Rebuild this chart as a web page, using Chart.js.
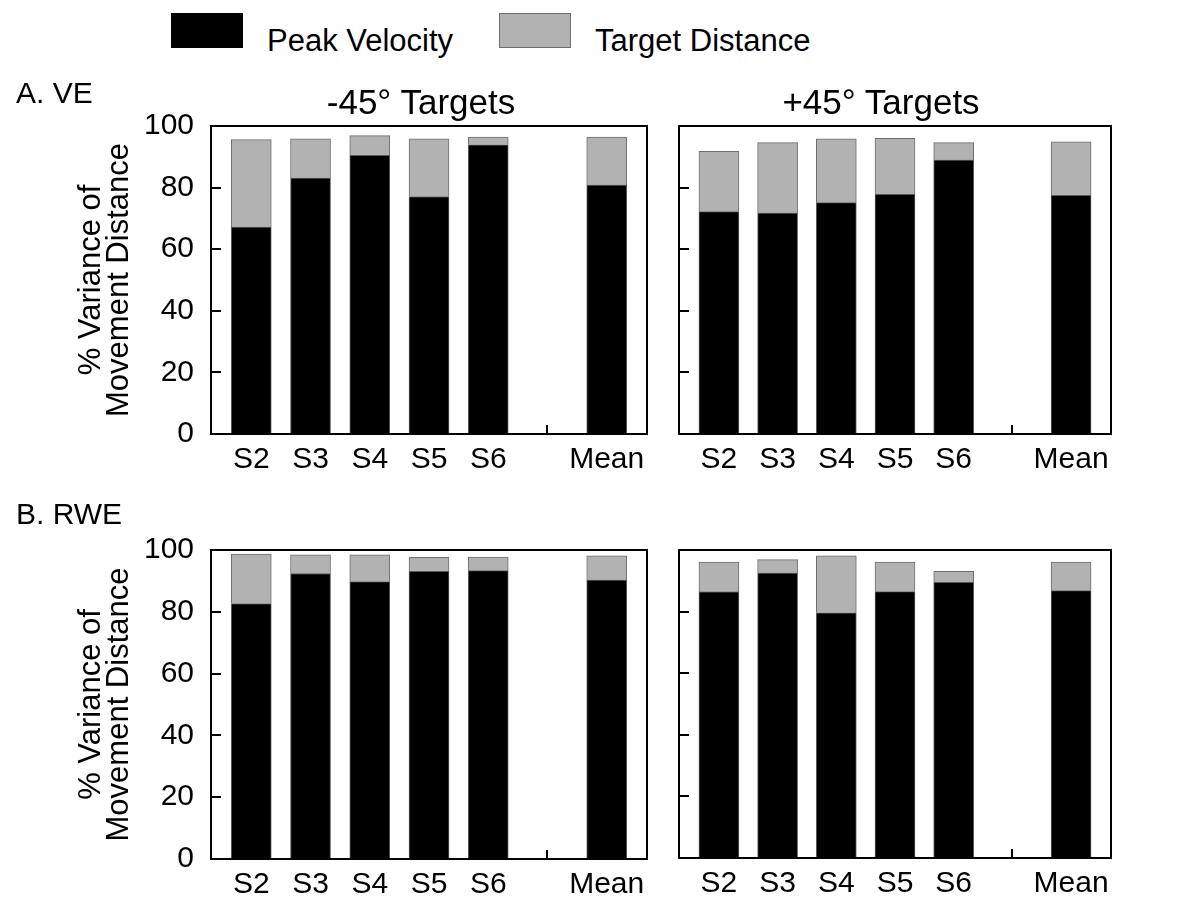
<!DOCTYPE html>
<html>
<head>
<meta charset="utf-8">
<script src="https://cdn.jsdelivr.net/npm/chart.js@4.4.1/dist/chart.umd.min.js"></script>
<style>
  body { margin: 0; background: #fff; width: 1200px; height: 923px; position: relative; overflow: hidden;
         font-family: "Liberation Sans", Arial, sans-serif; color: #000; }
  .txt { position: absolute; line-height: 1; white-space: nowrap; }
  .swatch { position: absolute; box-sizing: border-box; }
  canvas { position: absolute; display: block; }
  .frame { position: absolute; box-sizing: border-box; border: 2px solid #000; pointer-events: none; }
  .tick { position: absolute; background: #000; pointer-events: none; }
</style>
</head>
<body>
<canvas id="veNeg" width="660" height="385" style="left:0px;top:99px;width:660px;height:385px;"></canvas>
<canvas id="vePos" width="470" height="376" style="left:660px;top:108px;width:470px;height:376px;"></canvas>
<canvas id="rweNeg" width="660" height="386" style="left:0px;top:523px;width:660px;height:386px;"></canvas>
<canvas id="rwePos" width="470" height="376" style="left:660px;top:532px;width:470px;height:376px;"></canvas>

<!-- legend -->
<div class="swatch" style="left:171px;top:13px;width:72px;height:35px;background:#000;"></div>
<div class="txt" style="left:267px;top:25px;font-size:31px;">Peak Velocity</div>
<div class="swatch" style="left:499px;top:13px;width:72px;height:35px;background:#b2b2b2;border:1px solid #6e6e6e;"></div>
<div class="txt" style="left:595px;top:25px;font-size:31px;">Target Distance</div>

<!-- panel labels -->
<div class="txt" style="left:16px;top:78px;font-size:30px;">A. VE</div>
<div class="txt" style="left:16px;top:499px;font-size:30px;">B. RWE</div>
<div class="txt" style="left:316px;top:84px;width:210px;text-align:center;font-size:35px;">-45° Targets</div>
<div class="txt" style="left:776px;top:84px;width:210px;text-align:center;font-size:35px;">+45° Targets</div>

<script>
// categories ("" is the empty slot between S6 and Mean)
const groups = ["S2", "S3", "S4", "S5", "S6", "", "Mean"];
const yTicks = [0, 20, 40, 60, 80, 100];

// A. VE, -45° targets
const vePeakNeg = [67.2, 83.1, 90.5, 77.1, 93.9, null, 80.8];
const veTargetNeg = [28.4, 12.7, 6.4, 18.7, 2.5, null, 15.6];
// A. VE, +45° targets
const vePeakPos = [72.2, 71.7, 75.1, 77.8, 88.9, null, 77.5];
const veTargetPos = [19.6, 22.9, 20.7, 18.2, 5.7, null, 17.4];
// B. RWE, -45° targets
const rwePeakNeg = [82.7, 92.4, 89.8, 93.1, 93.3, null, 90.3];
const rweTargetNeg = [16.0, 6.0, 8.6, 4.5, 4.4, null, 7.8];
// B. RWE, +45° targets
const rwePeakPos = [86.4, 92.5, 79.6, 86.5, 89.5, null, 86.8];
const rweTargetPos = [9.7, 4.4, 18.5, 9.6, 3.6, null, 9.3];

Chart.defaults.font.family = '"Liberation Sans", Arial, sans-serif';
Chart.defaults.color = "#000";

// box round the plot + short inward tick marks
const framePlugin = {
    id: "frame",
    afterDraw(chart) {
        const { ctx, chartArea: a, scales } = chart;
        ctx.save();
        ctx.strokeStyle = "#000";
        ctx.lineWidth = 2;
        ctx.beginPath();
        ctx.rect(a.left, a.top, a.right - a.left, a.bottom - a.top);
        yTicks.slice(1, -1).forEach((v) => {
            const py = Math.round(scales.y.getPixelForValue(v));
            ctx.moveTo(a.left, py);
            ctx.lineTo(a.left + 10, py);
        });
        const gx = Math.round(scales.x.getPixelForValue(groups.indexOf("")));
        ctx.moveTo(gx, a.bottom);
        ctx.lineTo(gx, a.bottom - 9);
        ctx.stroke();
        ctx.restore();
    },
};

const toPoints = (arr) =>
    groups.map((g, i) => ({ x: i, y: arr[i] })).filter((p) => p.y !== null);

function makePanel(id, peak, target, leftSide) {
    return new Chart(document.getElementById(id), {
        type: "bar",
        data: {
            datasets: [
                {
                    label: "Peak Velocity",
                    data: toPoints(peak),
                    backgroundColor: "#000",
                    borderColor: "#5a5a5a",
                    borderWidth: 1,
                    barThickness: 40,
                },
                {
                    label: "Target Distance",
                    data: toPoints(target),
                    backgroundColor: "#b2b2b2",
                    borderColor: "#6e6e6e",
                    borderWidth: 1,
                    barThickness: 40,
                },
            ],
        },
        options: {
            responsive: false,
            animation: false,
            devicePixelRatio: 1,
            layout: { padding: { top: 18, right: leftSide ? 13 : 19, bottom: 0, left: 0 } },
            plugins: { legend: { display: false }, tooltip: { enabled: false } },
            scales: {
                x: {
                    type: "linear",
                    stacked: true,
                    offset: false,
                    min: -0.68,
                    max: 6.68,
                    grid: { display: false, offset: false },
                    border: { display: false },
                    afterBuildTicks: (s) => {
                        s.ticks = groups.map((g, i) => ({ value: i }));
                    },
                    afterFit: (s) => {
                        s.height = 50;
                    },
                    ticks: {
                        autoSkip: false,
                        maxRotation: 0,
                        padding: 0,
                        font: { size: 30 },
                        callback: (v) => groups[v] ?? "",
                    },
                },
                y: {
                    stacked: true,
                    min: 0,
                    max: 100,
                    grid: { display: false },
                    border: { display: false },
                    afterFit: (s) => {
                        s.width = leftSide ? 211 : 19;
                    },
                    ticks: {
                        display: leftSide,
                        stepSize: 20,
                        padding: 9,
                        font: { size: 30 },
                    },
                    title: {
                        display: leftSide,
                        text: ["% Variance of", "Movement Distance"],
                        font: { size: 31, lineHeight: 0.9 },
                        padding: { top: 78, bottom: 0 },
                    },
                },
            },
        },
        plugins: [framePlugin],
    });
}

// same frame again as page elements, placed from the chart's own layout
function frameOverlay(chart) {
    const cv = chart.canvas;
    const a = chart.chartArea;
    const ox = cv.offsetLeft;
    const oy = cv.offsetTop;
    const add = (cls, l, t, w, h) => {
        const d = document.createElement("div");
        d.className = cls;
        d.style.left = l + "px";
        d.style.top = t + "px";
        d.style.width = w + "px";
        d.style.height = h + "px";
        document.body.appendChild(d);
    };
    add("frame", ox + a.left - 1, oy + a.top - 1, a.right - a.left + 2, a.bottom - a.top + 2);
    yTicks.slice(1, -1).forEach((v) => {
        const py = Math.round(chart.scales.y.getPixelForValue(v));
        add("tick", ox + a.left, oy + py - 1, 10, 2);
    });
    const gx = Math.round(chart.scales.x.getPixelForValue(groups.indexOf("")));
    add("tick", ox + gx - 1, oy + a.bottom - 9, 2, 9);
}

[
    makePanel("veNeg", vePeakNeg, veTargetNeg, true),
    makePanel("vePos", vePeakPos, veTargetPos, false),
    makePanel("rweNeg", rwePeakNeg, rweTargetNeg, true),
    makePanel("rwePos", rwePeakPos, rweTargetPos, false),
].forEach(frameOverlay);
</script>
</body>
</html>
